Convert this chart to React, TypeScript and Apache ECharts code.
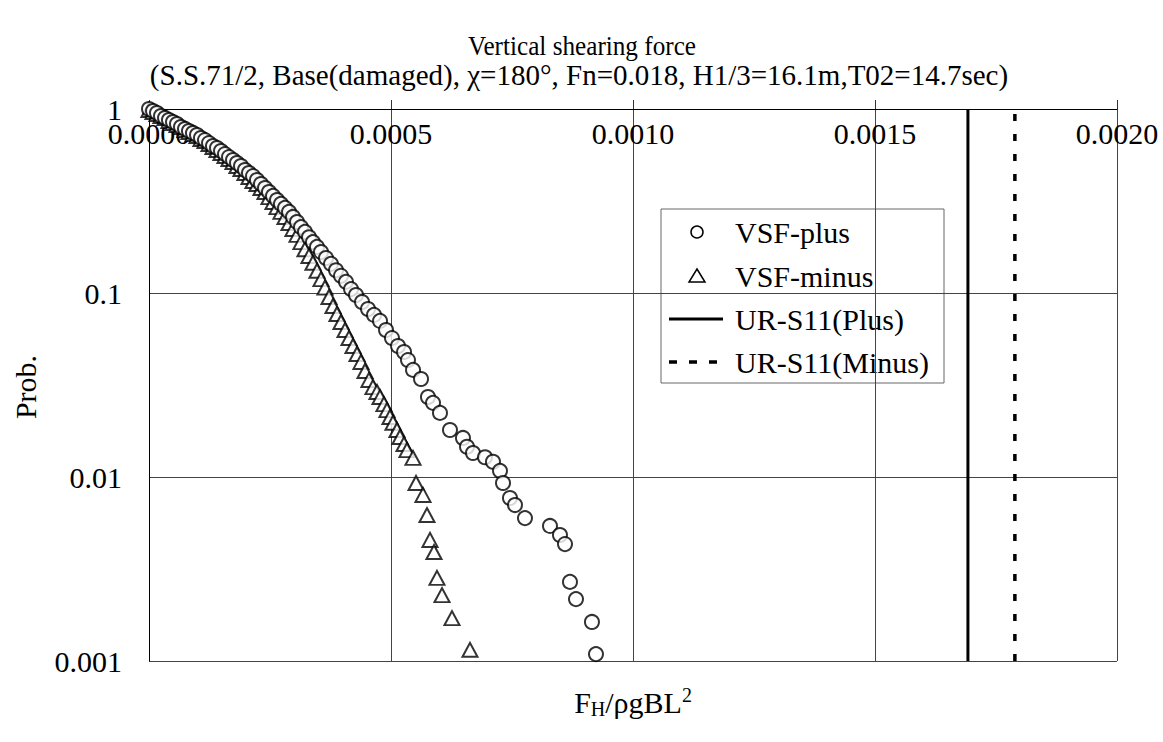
import React, { useEffect, useRef } from "react";
import * as echarts from "echarts";

const FONT = '"Liberation Serif", "Times New Roman", serif';

const titleLines = [
  "Vertical shearing force",
  "(S.S.71/2, Base(damaged), χ=180°, Fn=0.018, H1/3=16.1m,T02=14.7sec)",
];
const legendNames = ["VSF-plus", "VSF-minus", "UR-S11(Plus)", "UR-S11(Minus)"];
const xTicks = [0, 0.0005, 0.001, 0.0015, 0.002];
const yTicks = [0.001, 0.01, 0.1, 1];

// [F_H/ρgBL², Prob.]
const vsfPlus: [number, number][] = [
  [0, 1], [0.0000083, 0.975], [0.0000165, 0.951], [0.0000248, 0.916], [0.0000331, 0.894],
  [0.0000413, 0.871], [0.0000496, 0.85], [0.0000578, 0.829], [0.0000661, 0.798], [0.0000744, 0.779],
  [0.0000826, 0.759], [0.0000909, 0.741], [0.0000992, 0.722], [0.0001074, 0.696], [0.0001157, 0.678],
  [0.000124, 0.653], [0.0001322, 0.629], [0.0001405, 0.614], [0.0001488, 0.591], [0.000157, 0.569],
  [0.0001653, 0.548], [0.0001736, 0.528], [0.0001818, 0.509], [0.0001901, 0.49], [0.0001983, 0.466],
  [0.0002066, 0.449], [0.0002149, 0.432], [0.0002231, 0.411], [0.0002314, 0.391], [0.0002397, 0.372],
  [0.0002479, 0.354], [0.0002562, 0.337], [0.0002645, 0.32], [0.0002727, 0.305], [0.000281, 0.29],
  [0.0002893, 0.276], [0.0002975, 0.259], [0.0003058, 0.243], [0.000314, 0.228], [0.0003223, 0.215],
  [0.0003306, 0.201], [0.0003388, 0.189], [0.0003471, 0.178], [0.0003554, 0.167], [0.0003657, 0.155],
  [0.000376, 0.144], [0.0003864, 0.133], [0.0003967, 0.124], [0.000407, 0.115], [0.0004174, 0.105],
  [0.0004277, 0.0975], [0.0004401, 0.0894], [0.0004525, 0.0818], [0.0004649, 0.076], [0.0004773, 0.0705],
  [0.0004897, 0.0629], [0.000502, 0.0569], [0.0005145, 0.0515], [0.0005269, 0.0478], [0.0005351, 0.0432],
  [0.0005455, 0.0382], [0.000562, 0.0341], [0.0005764, 0.0272], [0.0005868, 0.0253], [0.0006012, 0.0223],
  [0.0006219, 0.018], [0.0006487, 0.0163], [0.000657, 0.0146], [0.0006694, 0.0135], [0.0006942, 0.0128],
  [0.0007107, 0.0121], [0.0007252, 0.0108], [0.0007314, 0.00928], [0.0007458, 0.00769], [0.0007562, 0.00704],
  [0.0007768, 0.00598], [0.0008285, 0.00542], [0.0008491, 0.00484], [0.0008595, 0.00432], [0.0008698, 0.00269],
  [0.0008822, 0.00217], [0.0009152, 0.00163], [0.0009235, 0.00109],
];

const vsfMinus: [number, number][] = [
  [0, 0.988], [0.0000083, 0.963], [0.0000165, 0.939], [0.0000248, 0.916], [0.0000331, 0.894],
  [0.0000413, 0.861], [0.0000496, 0.839], [0.0000578, 0.818], [0.0000661, 0.798], [0.0000744, 0.769],
  [0.0000826, 0.75], [0.0000909, 0.731], [0.0000992, 0.713], [0.0001074, 0.687], [0.0001157, 0.67],
  [0.000124, 0.645], [0.0001322, 0.622], [0.0001405, 0.599], [0.0001488, 0.577], [0.000157, 0.555],
  [0.0001653, 0.535], [0.0001736, 0.515], [0.0001818, 0.49], [0.0001901, 0.472], [0.0001983, 0.449],
  [0.0002066, 0.427], [0.0002149, 0.406], [0.0002231, 0.391], [0.0002314, 0.372], [0.0002397, 0.354],
  [0.0002479, 0.332], [0.0002562, 0.312], [0.0002645, 0.293], [0.0002727, 0.276], [0.000281, 0.259],
  [0.0002893, 0.24], [0.0002975, 0.223], [0.0003058, 0.207], [0.000314, 0.189], [0.0003223, 0.173],
  [0.0003306, 0.159], [0.0003388, 0.146], [0.0003471, 0.132], [0.0003554, 0.119], [0.0003636, 0.107],
  [0.0003719, 0.0951], [0.0003802, 0.085], [0.0003884, 0.0769], [0.0003967, 0.0696], [0.000405, 0.0629],
  [0.0004132, 0.0569], [0.0004215, 0.0515], [0.0004298, 0.0466], [0.000438, 0.0422], [0.0004463, 0.0377],
  [0.0004545, 0.0337], [0.0004628, 0.0308], [0.0004711, 0.029], [0.0004773, 0.0272], [0.0004855, 0.0249],
  [0.0004917, 0.0231], [0.0004979, 0.0212], [0.0005041, 0.0197], [0.0005124, 0.018], [0.0005186, 0.0165],
  [0.0005269, 0.0151], [0.000533, 0.014], [0.0005455, 0.0127], [0.0005517, 0.00928], [0.0005661, 0.00799],
  [0.0005744, 0.00621], [0.0005806, 0.00455], [0.0005888, 0.00391], [0.000595, 0.00283], [0.0006054, 0.00228],
  [0.000626, 0.00171], [0.0006632, 0.00115],
];

const urS11Plus = 0.001692;
const urS11Minus = 0.001789;

export default function App() {
  const ref = useRef<HTMLDivElement>(null);

  useEffect(() => {
    if (!ref.current) return;
    const chart = echarts.init(ref.current, null, { renderer: "svg" });

    const symStyle = { color: "#ffffff", borderColor: "#000000", borderWidth: 2 };
    const legendX = 661;
    const legendY = 209;
    const rowY = [232, 276, 319, 362];

    const option: any = {
      animation: false,
      backgroundColor: "#ffffff",
      grid: {
        left: 149,
        right: 46,
        top: 109,
        bottom: 81,
        containLabel: false,
        outerBoundsMode: "none",
      },
      xAxis: {
        type: "value",
        position: "top",
        min: xTicks[0],
        max: xTicks[xTicks.length - 1],
        interval: xTicks[1] - xTicks[0],
        axisLine: { show: true, onZero: false, lineStyle: { color: "#000", width: 1 } },
        axisTick: { show: true, inside: false, length: 9, lineStyle: { color: "#333", width: 1 } },
        axisLabel: {
          inside: true,
          margin: 13,
          fontSize: 30,
          lineHeight: 22,
          fontFamily: FONT,
          color: "#000",
          formatter: (v: number) => v.toFixed(4),
        },
        splitLine: { show: true, lineStyle: { color: "#444", width: 1 } },
      },
      yAxis: {
        type: "log",
        logBase: 10,
        min: yTicks[0],
        max: yTicks[yTicks.length - 1],
        axisLine: { show: true, lineStyle: { color: "#000", width: 1 } },
        axisTick: { show: false },
        minorTick: { show: false },
        axisLabel: {
          margin: 27,
          fontSize: 30,
          lineHeight: 22,
          fontFamily: FONT,
          color: "#000",
          formatter: (v: number) => String(Number(v.toPrecision(1))),
        },
        splitLine: { show: true, lineStyle: { color: "#444", width: 1 } },
      },
      series: [
        {
          name: legendNames[1],
          type: "scatter",
          symbol: "triangle",
          symbolSize: [15, 14],
          itemStyle: symStyle,
          data: vsfMinus,
          silent: true,
          z: 3,
        },
        {
          name: legendNames[0],
          type: "scatter",
          symbol: "circle",
          symbolSize: 14,
          itemStyle: symStyle,
          data: vsfPlus,
          silent: true,
          z: 4,
        },
        {
          name: legendNames[2],
          type: "line",
          symbol: "none",
          lineStyle: { color: "#000", width: 3 },
          data: [
            [urS11Plus, yTicks[0]],
            [urS11Plus, yTicks[yTicks.length - 1]],
          ],
          silent: true,
          z: 2,
        },
        {
          name: legendNames[3],
          type: "line",
          symbol: "none",
          lineStyle: { color: "#000", width: 3.5, type: [7, 13] },
          data: [
            [urS11Minus, yTicks[0]],
            [urS11Minus, yTicks[yTicks.length - 1]],
          ],
          silent: true,
          z: 2,
        },
      ],
      graphic: [
        {
          type: "text",
          x: 582,
          y: 46,
          scaleX: 0.9,
          style: { text: titleLines[0], font: `28px ${FONT}`, fill: "#000", align: "center", verticalAlign: "middle" },
        },
        {
          type: "text",
          x: 579,
          y: 75,
          style: { text: titleLines[1], font: `29px ${FONT}`, fill: "#000", align: "center", verticalAlign: "middle" },
        },
        {
          type: "text",
          x: 25,
          y: 387,
          rotation: Math.PI / 2,
          style: { text: "Prob.", font: `30px ${FONT}`, fill: "#000", align: "center", verticalAlign: "middle" },
        },
        {
          type: "text",
          x: 633,
          y: 702,
          style: {
            text: "{m|F}{s|H}{m|/ρgBL}{p|2}",
            align: "center",
            verticalAlign: "middle",
            rich: {
              m: { fontSize: 30, fontFamily: FONT, fill: "#000" },
              s: { fontSize: 20, fontFamily: FONT, fill: "#000", padding: [14, 0, 0, 0] },
              p: { fontSize: 20, fontFamily: FONT, fill: "#000", padding: [0, 0, 14, 0] },
            },
          },
        },
        {
          type: "group",
          z: 100,
          children: [
            {
              type: "rect",
              shape: { x: legendX, y: legendY, width: 283, height: 174 },
              style: { fill: "#fff", stroke: "#666", lineWidth: 1 },
            },
            {
              type: "circle",
              shape: { cx: 697, cy: rowY[0], r: 6 },
              style: { fill: "#fff", stroke: "#000", lineWidth: 1.5 },
            },
            {
              type: "polygon",
              shape: { points: [[697, rowY[1] - 7], [705, rowY[1] + 6], [689, rowY[1] + 6]] },
              style: { fill: "#fff", stroke: "#000", lineWidth: 1.5 },
            },
            {
              type: "line",
              shape: { x1: 669, y1: rowY[2], x2: 723, y2: rowY[2] },
              style: { stroke: "#000", lineWidth: 3 },
            },
            {
              type: "line",
              shape: { x1: 669, y1: rowY[3], x2: 723, y2: rowY[3] },
              style: { stroke: "#000", lineWidth: 3.5, lineDash: [8, 12] },
            },
            ...legendNames.map((n, i) => ({
              type: "text",
              x: 735,
              y: rowY[i],
              style: { text: n, font: `30px ${FONT}`, fill: "#000", align: "left", verticalAlign: "middle" },
            })),
          ],
        },
      ],
    };

    chart.setOption(option);
    return () => chart.dispose();
  }, []);

  return (
    <div
      ref={ref}
      style={{ position: "absolute", left: 0, top: 0, width: 1163, height: 742, background: "#fff" }}
    />
  );
}
